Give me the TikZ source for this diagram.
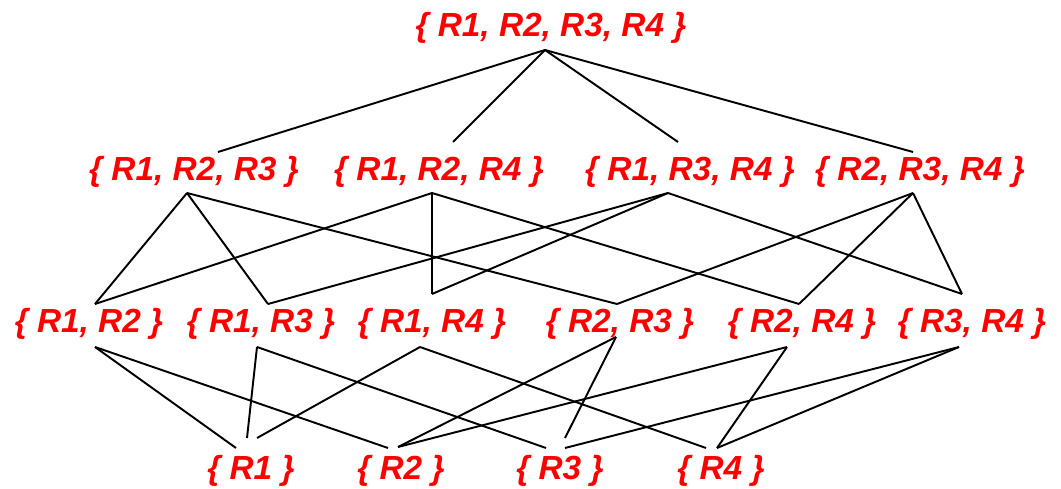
\documentclass[tikz,border=0pt]{standalone}
\usepackage{fontspec}
\setmainfont{Liberation Sans}
\usepackage{tikz}
\usetikzlibrary{positioning}
\definecolor{SetRed}{HTML}{FF0000}

\begin{document}
\begin{tikzpicture}[x=0.02cm, y=-0.02cm, every node/.style={font=\fontsize{19}{22}\selectfont\bfseries\itshape, text=SetRed, inner sep=0pt, anchor=base}, link/.style={draw=black, line width=1.1pt}]
        \useasboundingbox (0,0) rectangle (1061,489);
        % sets, one row per size
        \node (s1234) at (551,37) {\{ R1, R2, R3, R4 \}};
        \node (s123) at (194,181) {\{ R1, R2, R3 \}};
        \node (s124) at (439,181) {\{ R1, R2, R4 \}};
        \node (s134) at (690,181) {\{ R1, R3, R4 \}};
        \node (s234) at (920,181) {\{ R2, R3, R4 \}};
        \node (s12) at (89,333) {\{ R1, R2 \}};
        \node (s13) at (261,333) {\{ R1, R3 \}};
        \node (s14) at (432,333) {\{ R1, R4 \}};
        \node (s23) at (620,333) {\{ R2, R3 \}};
        \node (s24) at (802,333) {\{ R2, R4 \}};
        \node (s34) at (972,333) {\{ R3, R4 \}};
        \node (s1) at (251,479) {\{ R1 \}};
        \node (s2) at (401,479) {\{ R2 \}};
        \node (s3) at (560,479) {\{ R3 \}};
        \node (s4) at (721,479) {\{ R4 \}};
        % line ends
        \coordinate (s1234-s) at (545,50);
        \coordinate (s123-n) at (218,152);
        \coordinate (s124-n) at (453,142);
        \coordinate (s134-n) at (678,142);
        \coordinate (s234-n) at (913,152);
        \coordinate (s123-s) at (187,193);
        \coordinate (s124-s) at (432,193);
        \coordinate (s134-s) at (668,193);
        \coordinate (s234-s) at (913,193);
        \coordinate (s12-n) at (95,304);
        \coordinate (s13-n) at (268,304);
        \coordinate (s14-n) at (432,294);
        \coordinate (s23-n) at (617,304);
        \coordinate (s24-n) at (799,304);
        \coordinate (s34-n) at (962,294);
        \coordinate (s12-s) at (95,347);
        \coordinate (s13-s) at (257,347);
        \coordinate (s14-s) at (420,347);
        \coordinate (s23-s) at (616,337);
        \coordinate (s24-s) at (787,347);
        \coordinate (s34-s) at (959,347);
        \coordinate (s1-a) at (236,448);
        \coordinate (s1-b) at (247,438);
        \coordinate (s1-c) at (257,438);
        \coordinate (s2-a) at (388,448);
        \coordinate (s2-b) at (398,447);
        \coordinate (s3-a) at (546,448);
        \coordinate (s3-b) at (565,438);
        \coordinate (s3-c) at (565,448);
        \coordinate (s4-a) at (706,448);
        \coordinate (s4-b) at (717,448);
        % subset links
        \foreach \from/\to in {s1234-s/s123-n, s1234-s/s124-n, s1234-s/s134-n, s1234-s/s234-n,
            s123-s/s12-n, s123-s/s13-n, s123-s/s23-n, s124-s/s12-n, s124-s/s14-n, s124-s/s24-n,
            s134-s/s13-n, s134-s/s14-n, s134-s/s34-n, s234-s/s23-n, s234-s/s24-n, s234-s/s34-n,
            s12-s/s1-a, s12-s/s2-a, s13-s/s1-b, s13-s/s3-a, s14-s/s1-c, s14-s/s4-a,
            s23-s/s2-b, s23-s/s3-b, s24-s/s2-b, s24-s/s4-b, s34-s/s3-c, s34-s/s4-b}
            \draw[link] (\from) -- (\to);
    \end{tikzpicture}
\end{document}
